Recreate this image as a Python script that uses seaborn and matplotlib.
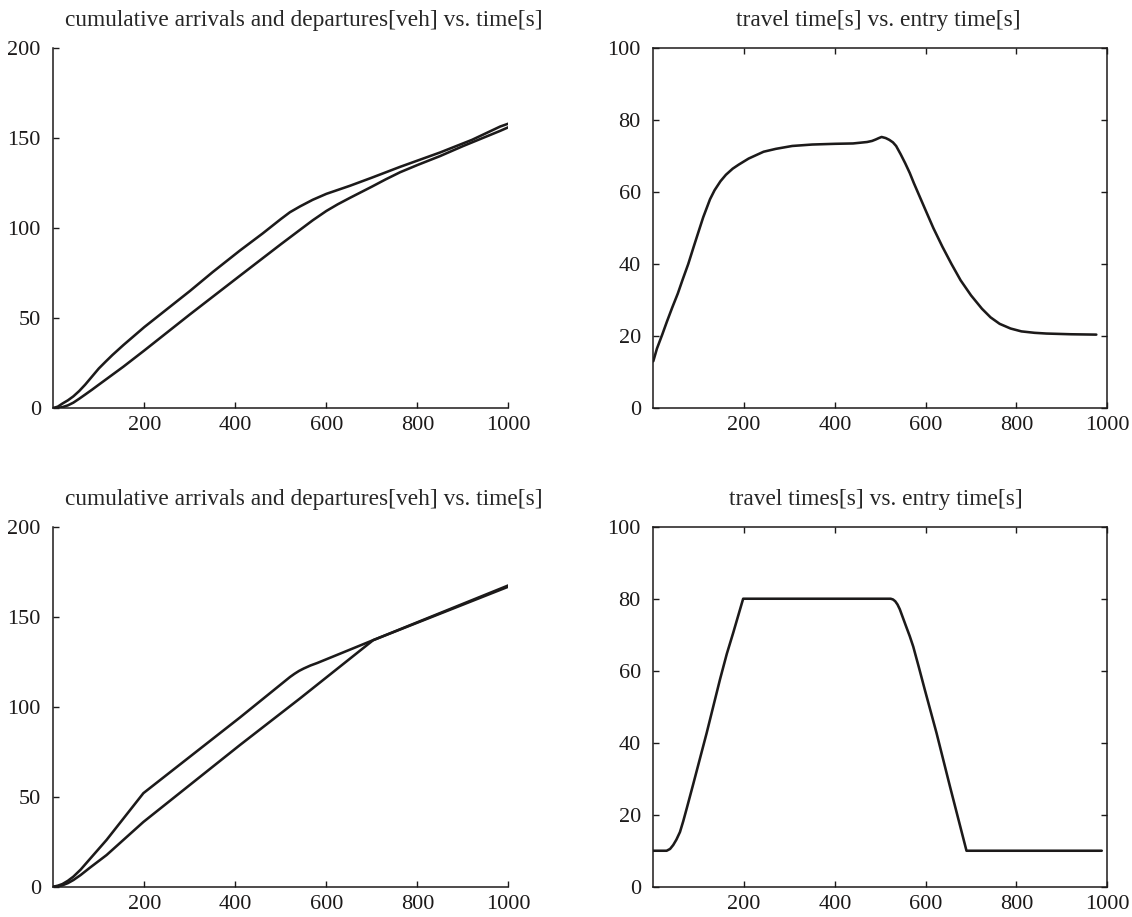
import pandas as pd
import matplotlib
matplotlib.use("Agg")
import matplotlib.pyplot as plt
import seaborn as sns

sns.set_style("ticks")
plt.rcParams['font.family'] = ['Liberation Serif', 'DejaVu Serif']
plt.rcParams['font.size'] = 14

# top-left: cumulative arrivals / departures [veh] vs time [s]
arr1_t = [0, 10, 20, 32, 44, 57, 70, 85, 100, 115, 130, 154, 200, 250, 300, 350, 410, 460,
          500, 520, 542, 570, 600, 652, 700, 762, 850, 920, 982, 1000]
arr1_n = [0, 0.8, 2.5, 4.3, 6.5, 9.5, 13, 17.5, 22, 25.8, 29.5, 35, 45, 55, 65, 75.5, 87.5, 97,
          105, 108.8, 112, 115.7, 119, 123.5, 128, 134, 142, 149, 156.4, 158]
dep1_t = [0, 10, 20, 32, 44, 57, 70, 85, 100, 154, 200, 300, 410, 500, 542, 570, 600, 625,
          652, 700, 730, 762, 800, 850, 900, 982, 1000]
dep1_n = [0, 0.1, 0.5, 1.5, 3, 5.2, 7.5, 10.2, 13, 23, 32, 52, 73.5, 91, 99, 104.3, 109.5, 113.2,
          116.8, 123, 127, 131, 135, 140, 145.5, 154, 156]

# top-right: travel time [s] vs entry time [s]
tt1_t = [0, 8, 20, 30, 42, 54, 65, 77, 89, 101, 110, 125, 135, 148, 160, 175, 188, 210, 243, 270,
         306, 350, 400, 440, 471, 482, 490, 497, 503, 512, 520, 528, 535, 545, 555, 565, 574, 586,
         598, 617, 637, 657, 677, 700, 724, 743, 763, 787, 811, 840, 866, 920, 976]
tt1_v = [13, 16.5, 20.5, 24, 28, 31.8, 35.8, 40, 44.8, 49.5, 53, 58, 60.5, 63, 64.8, 66.5, 67.6, 69.3, 71.2, 72,
         72.8, 73.2, 73.4, 73.5, 73.9, 74.2, 74.6, 75.0, 75.3, 75.0, 74.5, 73.8, 72.8, 70.5, 68, 65.3, 62.5, 59,
         55.5, 50, 44.8, 40, 35.5, 31.3, 27.6, 25.2, 23.4, 22.1, 21.3, 20.9, 20.7, 20.5, 20.4]

# bottom-left: cumulative arrivals / departures, second case
arr2_t = [0, 10, 20, 32, 44, 60, 80, 117, 198, 410, 520, 530, 540, 550, 565, 580, 703, 1000]
arr2_n = [0, 0.6, 1.5, 3.3, 5.6, 9.5, 15.3, 26, 52, 94, 116.5, 118.3, 119.9, 121.2, 122.9, 124.3, 137, 167.4]
dep2_t = [0, 10, 20, 32, 44, 60, 80, 117, 198, 410, 542, 703, 1000]
dep2_n = [0, 0.2, 0.8, 2, 3.7, 6.5, 10.5, 17.6, 36, 78.7, 104.6, 137, 166.7]

# bottom-right: travel times [s] vs entry time [s]
tt2_t = [0, 29.5, 37, 44, 51, 58.8, 66, 74, 88, 103, 117.6, 132, 147, 162, 176, 198,
         523, 528, 533, 538, 543, 550, 557, 565, 572.7, 585, 598, 624, 653.5, 690, 988]
tt2_v = [10, 10, 10.5, 11.6, 13.1, 15.2, 18.2, 21.9, 28.5, 35.7, 42.7, 50, 57.6, 64.7, 70.5, 80,
         80, 79.8, 79.3, 78.4, 77.1, 74.7, 72.3, 69.6, 66.7, 61, 54.8, 42.7, 27.9, 10, 10]

line_kw = dict(color="#1c1a1a", linewidth=1.85, estimator=None, sort=False)

fig = plt.figure(figsize=(11.32, 9.17), dpi=100)
ax_tl = fig.add_axes([0.0471, 0.555, 0.402, 0.3926])
ax_tr = fig.add_axes([0.5771, 0.555, 0.401, 0.3926])
ax_bl = fig.add_axes([0.0471, 0.0330, 0.402, 0.3926])
ax_br = fig.add_axes([0.5771, 0.0330, 0.401, 0.3926])

sns.lineplot(x=arr1_t, y=arr1_n, ax=ax_tl, **line_kw)
sns.lineplot(x=dep1_t, y=dep1_n, ax=ax_tl, **line_kw)
sns.lineplot(x=tt1_t, y=tt1_v, ax=ax_tr, **line_kw)
sns.lineplot(x=arr2_t, y=arr2_n, ax=ax_bl, **line_kw)
sns.lineplot(x=dep2_t, y=dep2_n, ax=ax_bl, **line_kw)
sns.lineplot(x=tt2_t, y=tt2_v, ax=ax_br, **line_kw)

cum_title = "cumulative arrivals and departures[veh] vs. time[s]"
ax_tl.set_title(cum_title, x=0.55, pad=16)
ax_bl.set_title(cum_title, x=0.55, pad=16)
ax_tr.set_title("travel time[s] vs. entry time[s]", x=0.495, pad=16)
ax_br.set_title("travel times[s] vs. entry time[s]", x=0.49, pad=16)

for ax in [ax_tl, ax_bl]:
    ax.set_xlim(0, 1000)
    ax.set_ylim(0, 200)
    ax.set_yticks([0, 50, 100, 150, 200])
    sns.despine(ax=ax)
for ax in [ax_tr, ax_br]:
    ax.set_xlim(0, 1000)
    ax.set_ylim(0, 100)
    ax.set_yticks([0, 20, 40, 60, 80, 100])
    ax.tick_params(top=True, right=True)

for ax in [ax_tl, ax_tr, ax_bl, ax_br]:
    ax.set_xticks([200, 400, 600, 800, 1000])
    ax.tick_params(direction="in", length=4, width=1.0, color="#1c1a1a",
                   labelsize=16, labelcolor="#1c1a1a")
    ax.tick_params(axis="x", pad=6)
    ax.tick_params(axis="y", pad=9)
    for s in ax.spines.values():
        s.set_linewidth(1.1)
        s.set_color("#1c1a1a")
    ax.set_xlabel("")
    ax.set_ylabel("")

fig.savefig("out.png", dpi=100)
